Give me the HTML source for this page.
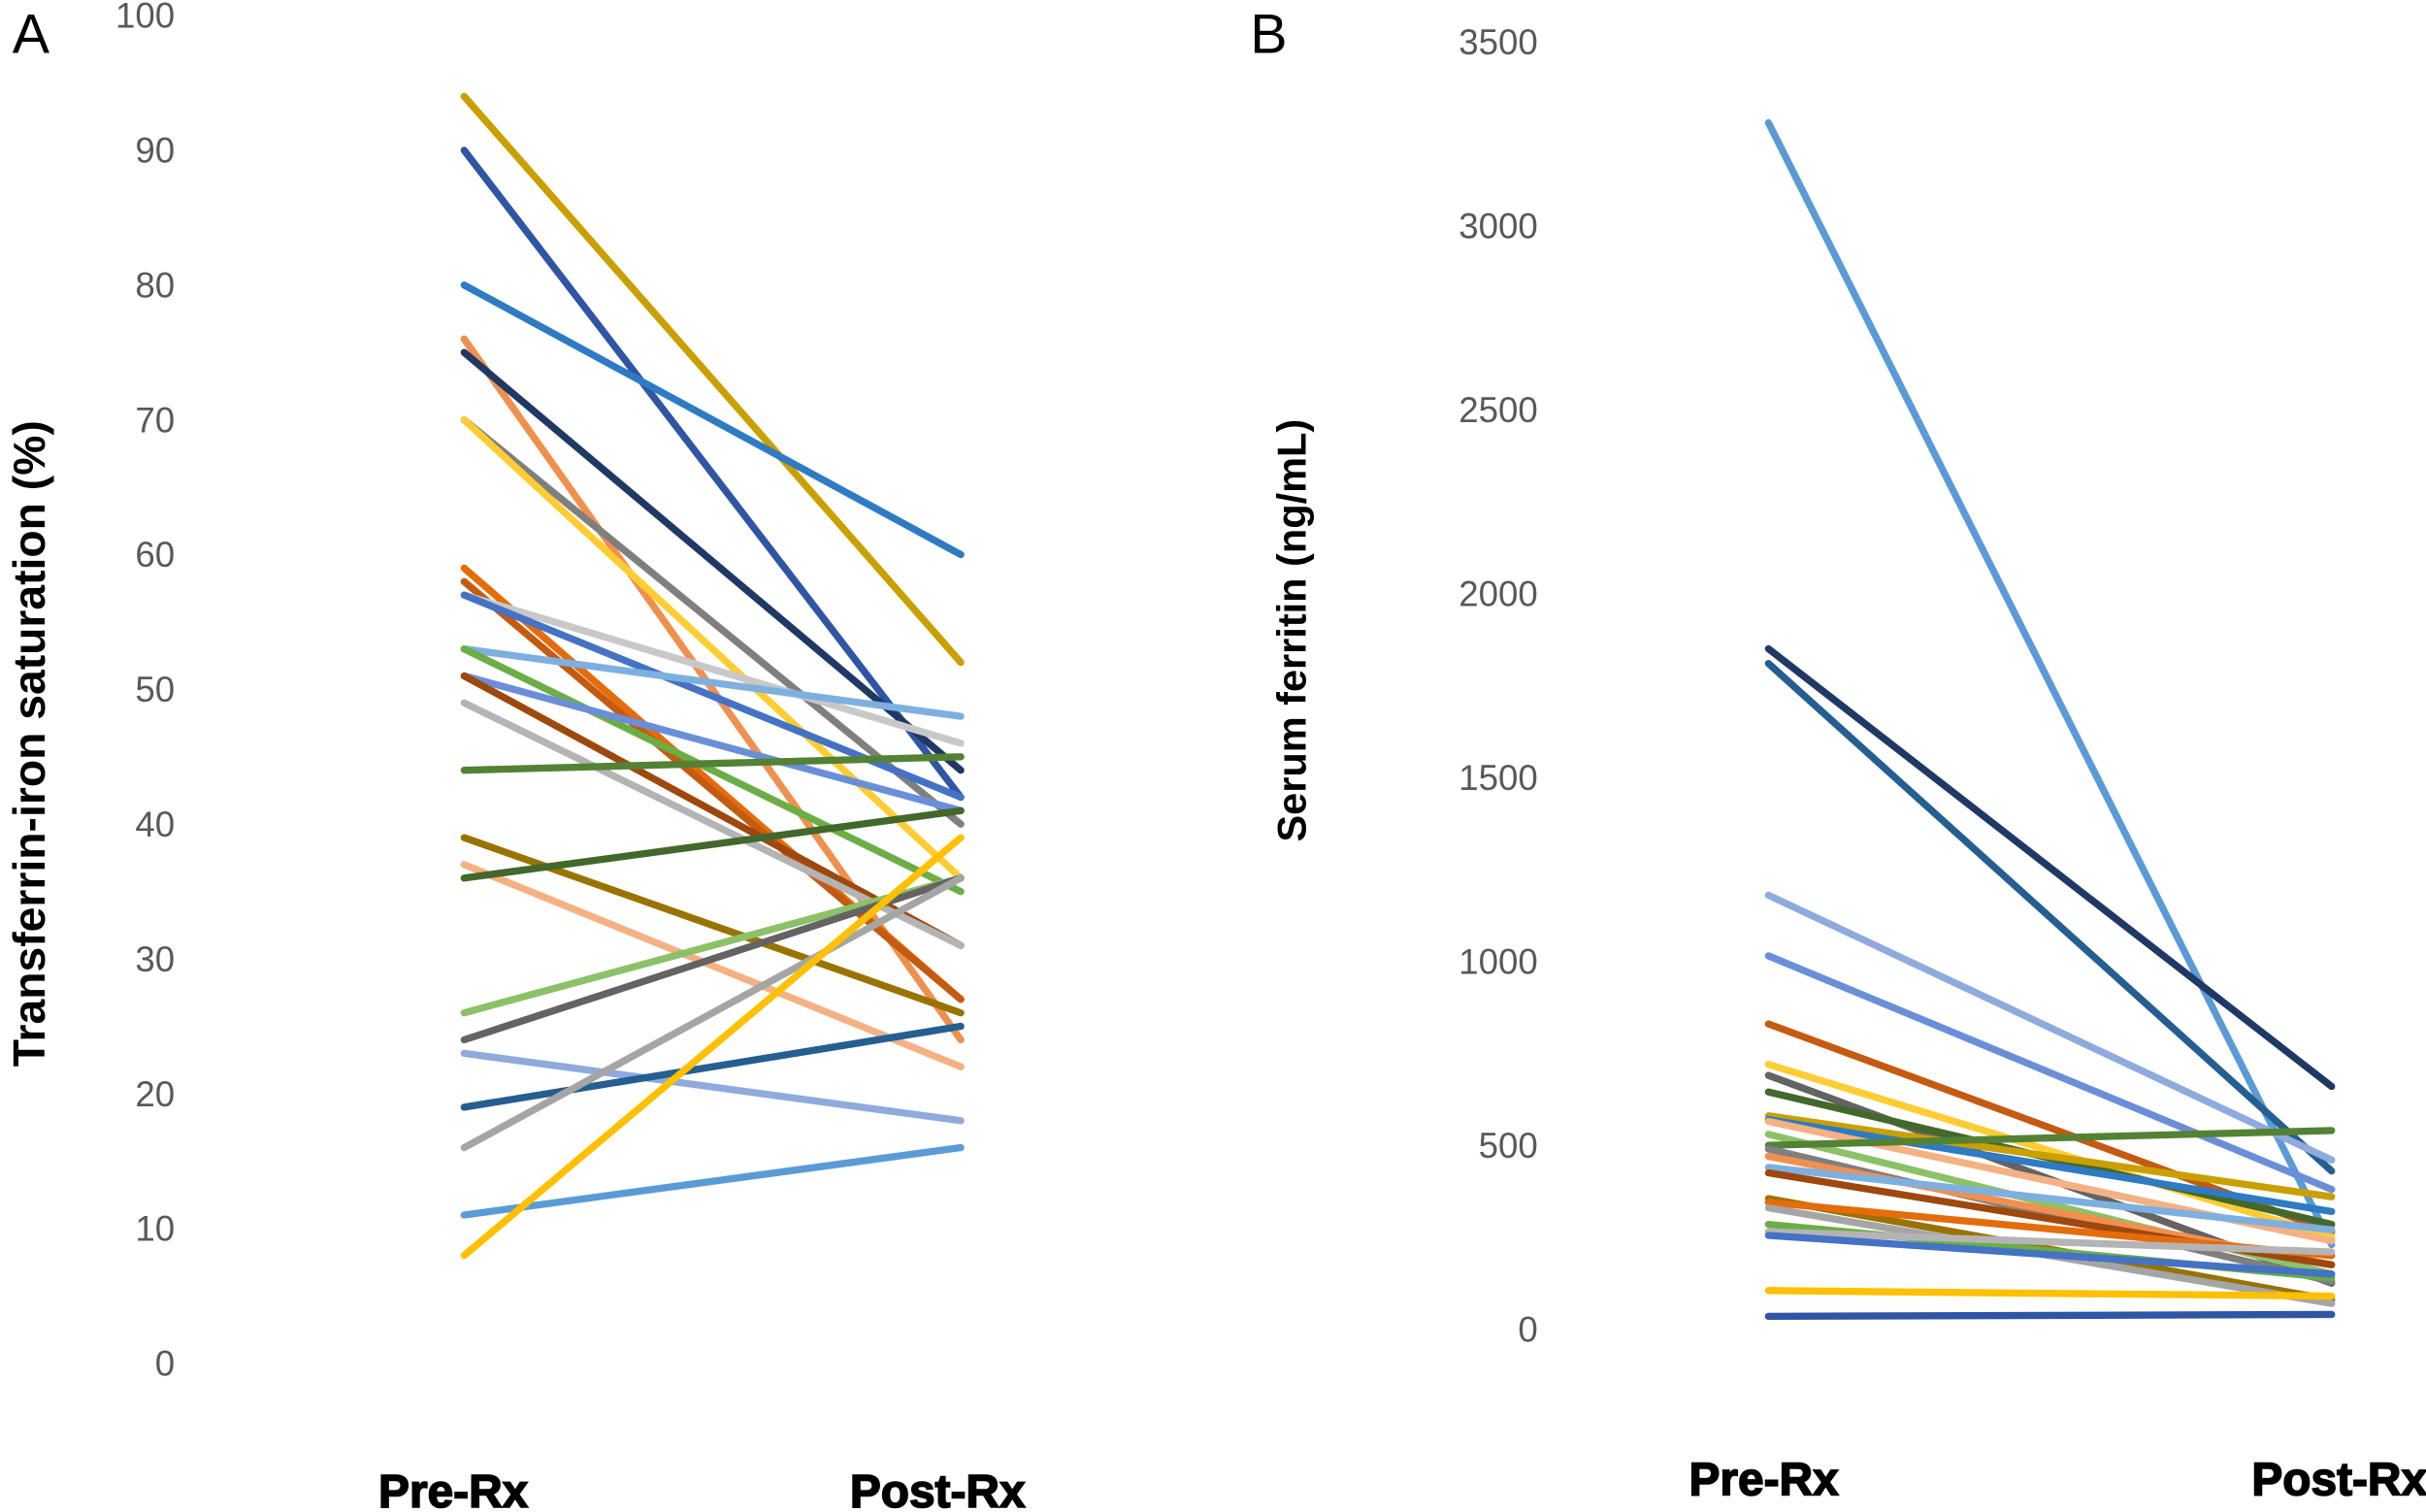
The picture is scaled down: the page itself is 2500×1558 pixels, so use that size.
<!DOCTYPE html>
<html><head><meta charset="utf-8"><style>
html,body{margin:0;padding:0;background:#fff;}
svg{display:block;}
text{font-family:"Liberation Sans",Arial,sans-serif;}
</style></head><body>
<svg id="chart" width="2500" height="1558" viewBox="0 0 1568 976" preserveAspectRatio="none" xmlns="http://www.w3.org/2000/svg">
<g id="pa"></g>
<g id="pb"></g>
</svg>
<script>
const categories = ["Pre-Rx","Post-Rx"];
const satTicks = [0,10,20,30,40,50,60,70,80,90,100];
const satPre  = [94,90,80,76,75,70,70,59,58,57,57,53,53,51,51,49,44,39,37,36,26,24,23,19,16,11,8];
const satPost = [52,42,60,24,44,40,36,27,27,46,42,48,35,41,31,31,45,26,22,41,36,36,18,25,36,16,39];
const satColors = ["#C9A000","#2F55A4","#2E7BC4","#F0904F","#203864","#7F7F7F","#FFCD33","#E46C0A","#C55A11","#C8C8C8","#4472C4","#7DB0E0","#6AAE45","#6A8FD8","#9E480E","#B4B4B4","#548235","#997300","#F4B183","#43682B","#8CC168","#636363","#8FAADC","#255E91","#A5A5A5","#5B9BD5","#FFC000"];
const ferTicks = [0,500,1000,1500,2000,2500,3000,3500];
const ferPre  = [3280,1850,1810,1180,1015,830,720,690,645,580,570,565,530,500,490,470,440,425,355,345,330,285,265,255,105,35];
const ferPost = [230,660,430,460,380,265,250,125,285,360,320,240,150,540,130,175,270,175,80,200,70,140,210,150,90,40];
const ferColors = ["#5B9BD5","#203864","#255E91","#8FAADC","#6A8FD8","#C55A11","#FFCD33","#636363","#43682B","#C9A000","#2E7BC4","#F4B183","#8CC168","#548235","#7F7F7F","#F0904F","#7DB0E0","#9E480E","#997300","#E46C0A","#A5A5A5","#6AAE45","#B4B4B4","#4472C4","#FFC000","#2F55A4"];

const NS="http://www.w3.org/2000/svg";
function mk(parent,tag,attrs,txt){const e=document.createElementNS(NS,tag);for(const k in attrs)e.setAttribute(k,attrs[k]);if(txt!==undefined)e.textContent=txt;parent.appendChild(e);return e;}

function panel(g,cfg){
  const y=v=>cfg.y0-(v-cfg.min)/(cfg.max-cfg.min)*(cfg.y0-cfg.y1);
  const x=i=>cfg.xs[i];
  cfg.ticks.forEach(t=>{
    const e=mk(g,'text',{x:cfg.tickX,y:y(t)+8,'text-anchor':'end','font-size':23,fill:'#595959'},t);
    
    
  });
  cfg.pre.forEach((p,i)=>{
    const l=mk(g,'line',{x1:x(0),y1:y(p),x2:x(1),y2:y(cfg.post[i]),stroke:cfg.colors[i%cfg.colors.length],'stroke-width':4.6,'stroke-linecap':'round'});
    
    
  });
  categories.forEach((c,i)=>{
    const e=mk(g,'text',{x:cfg.catX[i],y:cfg.catY,'text-anchor':'middle','font-size':30,'font-weight':'bold',fill:'#000',stroke:'#000','stroke-width':1},c);
    
    
  });
  const t=mk(g,'text',{transform:`translate(${cfg.titleX},${cfg.titleY}) rotate(-90)`,'text-anchor':'middle','font-size':cfg.titleSize,'font-weight':'bold',fill:'#000'},cfg.title);
  
  
  const L=mk(g,'text',{x:cfg.letterX,y:34,'font-size':36,fill:'#000'},cfg.letter);
  
  
}
panel(document.getElementById('pa'),{min:0,max:100,y0:880,y1:10,xs:[300,621],ticks:satTicks,tickX:113,pre:satPre,post:satPost,colors:satColors,catX:[293,606],catY:973,title:"Transferrin-iron saturation (%)",titleX:29,titleY:480,titleSize:29,letter:"A",letterX:8});
panel(document.getElementById('pb'),{min:0,max:3500,y0:858,y1:27,xs:[1143,1507],ticks:ferTicks,tickX:994,pre:ferPre,post:ferPost,colors:ferColors,catX:[1140,1512],catY:965,title:"Serum ferritin (ng/mL)",titleX:844,titleY:407,titleSize:26,letter:"B",letterX:808});
</script>
</body></html>
